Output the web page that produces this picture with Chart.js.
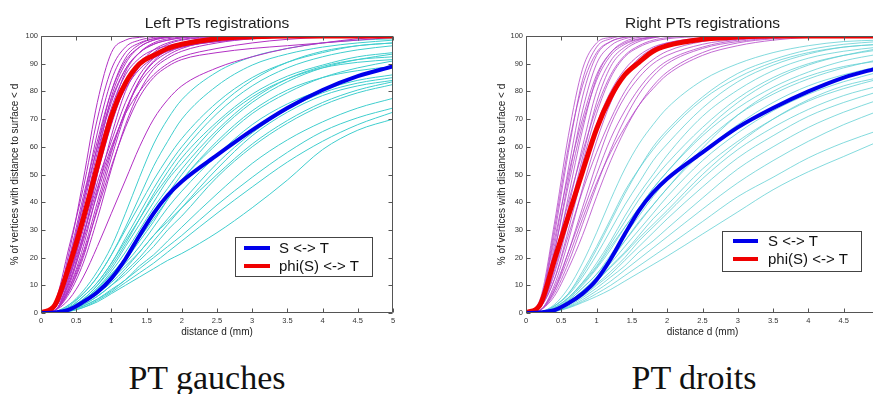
<!DOCTYPE html>
<html>
<head>
<meta charset="utf-8">
<title>PT registrations</title>
<script src="https://cdn.jsdelivr.net/npm/chart.js@4/dist/chart.umd.min.js"></script>
<style>
  html, body { margin: 0; padding: 0; background: #fff; width: 873px; height: 394px; overflow: hidden; }
  .panel { position: absolute; top: 0; }
  #leftPanel { left: 0; width: 434px; height: 345px; }
  #rightPanel { left: 485px; width: 435px; height: 345px; filter: blur(0.6px); }
  .caption {
    position: absolute; top: 361px; transform: translateX(-50%);
    font-family: "Liberation Serif", "DejaVu Serif", serif; font-size: 34px; line-height: 34px;
    color: #111; white-space: nowrap;
  }
</style>
</head>
<body>
<div class="panel" id="leftPanel"><canvas id="leftChart" width="434" height="345"></canvas></div>
<div class="panel" id="rightPanel"><canvas id="rightChart" width="435" height="345"></canvas></div>
<div class="caption" id="leftCaption" style="left:207px"></div>
<div class="caption" id="rightCaption" style="left:694px"></div>

<script>
// ---- texts ----
const chartTitles = ['Left PTs registrations', 'Right PTs registrations'];
const captions = ['PT gauches', 'PT droits'];
const seriesNames = ['S <-> T', 'phi(S) <-> T'];
const xAxisTitle = 'distance d (mm)';
const yAxisTitle = '% of vertices with distance to surface < d';

// ---- axes ----
const xTickValues = [0, 0.5, 1, 1.5, 2, 2.5, 3, 3.5, 4, 4.5, 5];
const xTickLabels = ['0', '0.5', '1', '1.5', '2', '2.5', '3', '3.5', '4', '4.5', '5'];
const yTickValues = [0, 10, 20, 30, 40, 50, 60, 70, 80, 90, 100];
const yTickLabels = ['0', '10', '20', '30', '40', '50', '60', '70', '80', '90', '100'];

// distance samples (mm) shared by every curve
const distances = [0, 0.2, 0.4, 0.6, 0.8, 1.0, 1.2, 1.4, 1.6, 1.8, 2.0, 2.5, 3.0, 3.5, 4.0, 4.5, 5.0];

// ---- left PTs: group curves ----
const leftMeanST  = [0, 0.2, 1.2, 4, 7.5, 12.5, 19.5, 28, 36, 42.5, 47.5, 57, 66, 74, 80.5, 85.5, 89];
const leftMeanPhi = [0, 3, 17, 34, 53, 71, 83, 90, 93, 95.5, 97, 99, 99.7, 100, 100, 100, 100];

// left PTs: one curve per subject, before registration
const leftSubjectsST = [
  [0, 0.5, 3, 8, 15, 24, 36, 49, 61, 70, 77, 87, 92.5, 95.5, 97.5, 98.5, 99],
  [0, 0.3, 2.5, 7, 13, 21, 31, 42, 53, 62, 70, 82, 89.5, 93.5, 96, 97.5, 98.5],
  [0, 0.4, 3, 7, 13, 21, 30, 39, 48, 56, 63, 76, 85, 90.5, 94, 96.5, 97.5],
  [0, 0.2, 2, 5, 10, 17, 25, 34, 43, 51, 58, 72, 82, 88.5, 92.5, 95, 96.5],
  [0, 0.3, 2, 6, 11, 18, 26, 34, 42, 49, 56, 69, 79, 85.5, 89.5, 92.5, 94],
  [0, 0.2, 1.5, 4.5, 9, 15, 22, 30, 38, 45, 52, 66, 77, 84.5, 89, 91.5, 92.5],
  [0, 0.2, 1.5, 4.5, 9, 14, 20, 27, 34, 41, 48, 61, 72, 79.5, 85, 88.5, 91],
  [0, 0.1, 1.2, 4, 8, 13, 19, 26, 33, 41, 48, 62, 73, 80.5, 85, 87.5, 89],
  [0, 0.2, 1.5, 4, 8, 13, 18, 24, 31, 38, 44, 57, 68, 75.5, 80.5, 84, 86],
  [0, 0.1, 1, 3.5, 7, 11, 16, 22, 28, 34, 40, 54, 65, 73.5, 79.5, 83, 85],
  [0, 0.1, 1, 3, 6, 10, 15, 20, 26, 32, 38, 52, 64, 72.5, 78.5, 82, 84],
  [0, 0.2, 1.2, 4, 7.5, 12, 17, 22, 28, 33, 38, 50, 61, 69.5, 76, 80.5, 83.5],
  [0, 0.1, 1, 3, 6, 10, 14, 19, 24, 30, 35, 49, 60, 68.5, 75, 79.5, 82.5],
  [0, 0.1, 0.8, 2.5, 5, 8.5, 12, 17, 21, 26, 31, 43, 54, 62.5, 69, 74, 77.5],
  [0, 0.1, 0.8, 2.5, 5, 8, 12, 16, 20, 24, 28, 39, 49, 58, 65.5, 70.5, 74],
  [0, 0.1, 0.6, 2, 4.5, 7.5, 11, 14.5, 18, 22, 26, 36, 45.5, 54.5, 62, 68, 72.5],
  [0, 0.1, 0.6, 2, 4, 7, 10, 13, 16, 19, 21.5, 29, 38, 48, 59, 66, 70],
  [0, 0.3, 2, 6, 11, 18, 27, 36, 45, 53, 60, 74, 84, 90.5, 94.5, 96.5, 97.5],
  [0, 0.2, 1.5, 5, 10, 16, 24, 32, 40, 48, 54, 68, 78, 84.5, 88.5, 90.5, 91.5],
  [0, 0.2, 1.2, 4, 8.5, 14, 20, 28, 36, 43, 50, 65, 76, 83.5, 88.5, 91.5, 93.5]
];

// left PTs: one curve per subject, after registration
const leftSubjectsPhi = [
  [0, 3, 22, 48, 76, 94, 98.5, 99.5, 100, 100, 100, 100, 100, 100, 100, 100, 100],
  [0, 4, 24, 45, 70, 88, 96, 98.5, 99.5, 100, 100, 100, 100, 100, 100, 100, 100],
  [0, 2, 18, 40, 65, 84, 94, 97.5, 99, 99.6, 100, 100, 100, 100, 100, 100, 100],
  [0, 3, 20, 42, 62, 80, 91, 96, 98.5, 99.5, 100, 100, 100, 100, 100, 100, 100],
  [0, 1, 12, 32, 56, 78, 90, 96, 98.5, 99.5, 100, 100, 100, 100, 100, 100, 100],
  [0, 2, 15, 35, 58, 76, 88, 94, 97, 98.5, 99.3, 100, 100, 100, 100, 100, 100],
  [0, 1, 10, 27, 50, 72, 87, 94, 97.5, 99, 99.6, 100, 100, 100, 100, 100, 100],
  [0, 2, 14, 30, 50, 68, 82, 90, 95, 97.5, 98.8, 99.8, 100, 100, 100, 100, 100],
  [0, 1, 9, 24, 44, 64, 80, 89, 94, 97, 98.5, 99.6, 100, 100, 100, 100, 100],
  [0, 1, 11, 28, 47, 62, 76, 86, 92, 95.5, 97.5, 99.3, 100, 100, 100, 100, 100],
  [0, 2, 16, 36, 54, 70, 81, 88, 92, 94.5, 96, 98, 99, 99.6, 100, 100, 100],
  [0, 1, 8, 20, 38, 56, 72, 84, 91, 95, 97.5, 99.5, 100, 100, 100, 100, 100],
  [0, 1, 7, 18, 34, 52, 68, 80, 88, 92, 94.5, 97.5, 99, 99.7, 100, 100, 100],
  [0, 2, 13, 28, 45, 60, 72, 80, 86, 90, 92.5, 95.5, 97.5, 98.8, 99.5, 100, 100],
  [0, 3, 19, 40, 60, 77, 88, 94, 97, 98.5, 99.4, 100, 100, 100, 100, 100, 100],
  [0, 1, 9, 22, 40, 58, 73, 83, 89, 93, 95.5, 98.5, 99.5, 100, 100, 100, 100],
  [0, 1, 5, 13, 24, 36, 48, 60, 70, 77, 82, 88.5, 92.5, 95.5, 97.5, 99, 100],
  [0, 2, 17, 38, 60, 80, 92, 97, 99, 99.7, 100, 100, 100, 100, 100, 100, 100],
  [0, 1, 13, 33, 55, 74, 86, 92, 95, 96.5, 97.5, 98.8, 99.5, 100, 100, 100, 100],
  [0, 2, 11, 26, 43, 59, 73, 84, 90.5, 94, 96, 98, 99.2, 99.8, 100, 100, 100],
  [0, 1, 8, 21, 37, 53, 67, 78, 85, 89, 91.5, 94, 95.5, 96.5, 97.5, 98.5, 99.5]
];

// ---- right PTs: group curves ----
const rightMeanST  = [0, 0.2, 1, 3.5, 7, 12, 19.5, 28.5, 37, 43.5, 48.5, 58, 67, 74, 80, 85, 88.5];
const rightMeanPhi = [0, 3, 19, 35, 51, 66.5, 78, 86, 90.5, 94.5, 96.5, 98.8, 99.6, 100, 100, 100, 100];

// right PTs: one curve per subject, before registration
const rightSubjectsST = [
  [0, 0.4, 3, 9, 18, 29, 41, 52, 61, 68, 74, 84, 90, 94, 96.5, 98, 98.5],
  [0, 0.3, 2.5, 7, 14, 23, 33, 43, 52, 60, 66, 78, 86.5, 91.5, 95, 97, 98],
  [0, 0.3, 2.5, 6.5, 13, 21, 30, 39, 47, 55, 61, 74, 83.5, 89.5, 93.5, 96, 97],
  [0, 0.2, 2, 5.5, 11, 18, 26, 35, 43, 50, 57, 71, 80.5, 87.5, 92, 94.5, 96],
  [0, 0.2, 2, 5.5, 11, 17, 25, 33, 41, 48, 54, 67, 77.5, 85, 90, 93, 95],
  [0, 0.2, 1.5, 5, 10, 16, 23, 31, 38, 45, 51, 64, 74, 81.5, 87, 91, 93.5],
  [0, 0.2, 1.5, 4.5, 9, 14, 21, 28, 35, 42, 48, 61, 71.5, 79, 84.5, 88.5, 91.5],
  [0, 0.1, 1.2, 4, 8, 13, 19, 26, 33, 39, 45, 58, 68, 76, 82, 86, 89],
  [0, 0.2, 1.2, 4, 8, 12.5, 18, 24, 30, 36, 42, 55, 65, 73, 79, 83.5, 87],
  [0, 0.1, 1, 3.5, 7, 11.5, 17, 22, 28, 34, 39, 52, 62, 70, 76.5, 81, 84.5],
  [0, 0.1, 1, 3, 6.5, 10.5, 15, 20, 26, 31, 36, 48.5, 59, 67, 73.5, 78.5, 82],
  [0, 0.1, 1, 3, 6, 10, 14, 19, 24, 29, 34, 45.5, 56, 64, 71, 76, 80],
  [0, 0.1, 0.8, 2.5, 5.5, 9, 13, 17, 22, 26, 30.5, 41.5, 52, 60, 67, 72.5, 77],
  [0, 0.1, 0.7, 2.2, 4.8, 8, 11.5, 15.5, 19.5, 23.5, 27.5, 37.5, 47, 55, 62, 68, 73],
  [0, 0.1, 0.6, 2, 4.2, 7, 10, 13.5, 17, 20.5, 24, 33, 42, 49, 56, 61.5, 66],
  [0, 0.1, 0.5, 1.8, 3.8, 6, 8.5, 11.5, 14.5, 17.5, 20.5, 28.5, 36.5, 44.5, 51, 56.5, 62],
  [0, 0.3, 2.5, 7, 15, 24, 34, 44, 52, 59, 65, 77, 85, 90.5, 94, 96, 97],
  [0, 0.2, 1.8, 5.5, 10.5, 16.5, 24, 31, 38, 45, 51, 65, 76, 84, 89.5, 93, 95.5],
  [0, 0.2, 1.5, 4.5, 9, 14, 20, 26, 32.5, 39, 45, 59.5, 71.5, 80, 85.5, 89, 91],
  [0, 0.1, 1, 3.5, 7.5, 11.5, 16.5, 21.5, 27, 32, 37, 50, 61, 70, 77, 82, 85]
];

// right PTs: one curve per subject, after registration
const rightSubjectsPhi = [
  [0, 5, 32, 64, 88, 97.5, 99.5, 100, 100, 100, 100, 100, 100, 100, 100, 100, 100],
  [0, 4, 28, 58, 84, 96, 99, 100, 100, 100, 100, 100, 100, 100, 100, 100, 100],
  [0, 3, 24, 52, 78, 93, 98, 99.6, 100, 100, 100, 100, 100, 100, 100, 100, 100],
  [0, 3, 22, 48, 73, 90, 96.5, 99, 99.8, 100, 100, 100, 100, 100, 100, 100, 100],
  [0, 4, 26, 50, 70, 86, 94, 97.5, 99, 99.7, 100, 100, 100, 100, 100, 100, 100],
  [0, 2, 18, 42, 66, 85, 94, 98, 99.5, 100, 100, 100, 100, 100, 100, 100, 100],
  [0, 2, 16, 38, 60, 80, 91, 96, 98.5, 99.5, 100, 100, 100, 100, 100, 100, 100],
  [0, 3, 20, 40, 58, 74, 86, 93, 96.5, 98.5, 99.4, 100, 100, 100, 100, 100, 100],
  [0, 2, 14, 33, 54, 72, 85, 92.5, 96, 98, 99, 99.8, 100, 100, 100, 100, 100],
  [0, 2, 12, 30, 50, 68, 80, 88, 93, 96, 97.5, 99.2, 100, 100, 100, 100, 100],
  [0, 1, 10, 26, 45, 62, 76, 86, 92, 95.5, 97.5, 99.3, 100, 100, 100, 100, 100],
  [0, 2, 12, 28, 44, 58, 70, 80, 87, 91.5, 94.5, 98, 99.3, 100, 100, 100, 100],
  [0, 1, 8, 22, 38, 54, 68, 78, 85, 90, 93, 97, 98.8, 99.6, 100, 100, 100],
  [0, 1, 9, 22, 36, 50, 63, 73, 81, 87, 91, 96, 98.5, 99.5, 100, 100, 100],
  [0, 1, 7, 18, 32, 46, 59, 70, 79, 85.5, 90, 95.5, 98, 99.3, 100, 100, 100],
  [0, 1, 8, 20, 34, 47, 58, 67, 75, 81, 86, 93, 96.5, 98.5, 99.5, 100, 100],
  [0, 3, 22, 46, 68, 84, 93, 97, 98.8, 99.5, 100, 100, 100, 100, 100, 100, 100],
  [0, 4, 30, 60, 82, 94, 98, 99.5, 100, 100, 100, 100, 100, 100, 100, 100, 100],
  [0, 1, 6, 16, 28, 42, 55, 66, 75, 82, 87, 94, 97.5, 99, 99.8, 100, 100],
  [0, 2, 15, 35, 56, 76, 89, 95, 98, 99.3, 100, 100, 100, 100, 100, 100, 100]
];

// ---- drawing helpers ----
const FONT = "'Liberation Sans', Arial, Helvetica, sans-serif";
Chart.defaults.font.family = FONT;
Chart.defaults.color = '#222';

const curve = values => distances.map((d, i) => ({ x: d, y: values[i] }));

// axes box with inward tick marks on all four sides
const frameTicks = {
  id: 'frameTicks',
  afterDatasetsDraw(chart, args, o) {
    const { ctx, chartArea: a, scales: { x, y } } = chart;
    const L = Math.round(a.left) + 0.5, R = Math.round(a.right) - 0.5;
    const T = Math.round(a.top) + 0.5, B = Math.round(a.bottom) - 0.5;
    ctx.save();
    ctx.strokeStyle = o.color;
    ctx.lineWidth = 1;
    ctx.beginPath();
    ctx.rect(L, T, R - L, B - T);
    for (const t of x.ticks) {
      const px = Math.round(x.getPixelForValue(t.value)) + 0.5;
      ctx.moveTo(px, B); ctx.lineTo(px, B - o.len);
      ctx.moveTo(px, T); ctx.lineTo(px, T + o.len);
    }
    for (const t of y.ticks) {
      const py = Math.round(y.getPixelForValue(t.value)) + 0.5;
      ctx.moveTo(L, py); ctx.lineTo(L + o.len, py);
      ctx.moveTo(R, py); ctx.lineTo(R - o.len, py);
    }
    ctx.stroke();
    ctx.restore();
  }
};

// boxed legend in the lower right corner of the plot
const boxLegend = {
  id: 'boxLegend',
  afterDatasetsDraw(chart, args, o) {
    const { ctx, chartArea: a } = chart;
    const items = chart.data.datasets.filter(d => d.inLegend);
    const x0 = Math.round(a.right - o.right - o.width);
    const y0 = Math.round(a.bottom - o.bottom - o.height);
    ctx.save();
    ctx.fillStyle = '#fff';
    ctx.fillRect(x0, y0, o.width, o.height);
    ctx.strokeStyle = o.borderColor;
    ctx.lineWidth = 1;
    ctx.strokeRect(x0 + 0.5, y0 + 0.5, o.width, o.height);
    ctx.font = o.font;
    ctx.textBaseline = 'middle';
    items.forEach((d, i) => {
      const cy = y0 + o.firstRow + i * o.rowGap;
      ctx.strokeStyle = d.borderColor;
      ctx.lineWidth = o.sampleWidth;
      ctx.beginPath();
      ctx.moveTo(x0 + o.sampleStart, cy);
      ctx.lineTo(x0 + o.sampleStart + o.sampleLen, cy);
      ctx.stroke();
      ctx.fillStyle = o.color;
      ctx.fillText(d.label, x0 + o.textStart, cy + 1);
    });
    ctx.restore();
  }
};

function buildChart(canvasId, title, meanST, meanPhi, subjST, subjPhi, look) {
  const datasets = [
    { label: seriesNames[0], data: curve(meanST), borderColor: 'rgb(0,0,235)', borderWidth: 4, order: 0, inLegend: true },
    { label: seriesNames[1], data: curve(meanPhi), borderColor: 'rgb(240,0,0)', borderWidth: 5, order: 0, inLegend: true }
  ];
  subjPhi.forEach((v, i) => datasets.push({ label: 'phi ' + (i + 1), data: curve(v), borderColor: look.magenta, borderWidth: 1, order: 1 }));
  subjST.forEach((v, i) => datasets.push({ label: 'S ' + (i + 1), data: curve(v), borderColor: look.cyan, borderWidth: 1, order: 2 }));
  datasets.forEach(d => { d.pointRadius = 0; d.fill = false; d.cubicInterpolationMode = 'monotone'; });

  return new Chart(document.getElementById(canvasId), {
    type: 'line',
    data: { datasets },
    options: {
      responsive: false,
      animation: false,
      events: [],
      layout: { padding: { left: 0, right: 41, top: 0, bottom: 2 } },
      plugins: {
        legend: { display: false },
        tooltip: { enabled: false },
        title: {
          display: true, text: title, color: '#222', fullSize: false,
          font: { size: 15.5, weight: 'normal' },
          padding: { top: 14, bottom: 3.4 }
        },
        frameTicks: { color: '#555', len: 4 },
        boxLegend: look.legend
      },
      scales: {
        x: {
          type: 'linear', min: 0, max: 5,
          afterBuildTicks: s => { s.ticks = xTickValues.map(v => ({ value: v })); },
          afterFit: s => { s.height = 30; },
          ticks: { font: { size: 7.5 }, color: '#333', padding: 3, maxRotation: 0, autoSkip: false,
                   callback: (v, i) => xTickLabels[i] },
          grid: { display: false, drawTicks: false },
          border: { display: false },
          title: { display: true, text: xAxisTitle, color: '#222', font: { size: 10 }, padding: { top: 0, bottom: 5 } }
        },
        y: {
          type: 'linear', min: 0, max: 100,
          afterBuildTicks: s => { s.ticks = yTickValues.map(v => ({ value: v })); },
          afterFit: s => { s.width = 41; },
          ticks: { font: { size: 7.5 }, color: '#333', padding: 3, autoSkip: false,
                   callback: (v, i) => yTickLabels[i] },
          grid: { display: false, drawTicks: false },
          border: { display: false },
          title: { display: true, text: yAxisTitle, color: '#222', font: { size: 10 }, padding: { top: look.yTitlePad, bottom: 0 } }
        }
      }
    },
    plugins: [frameTicks, boxLegend]
  });
}

buildChart('leftChart', chartTitles[0], leftMeanST, leftMeanPhi, leftSubjectsST, leftSubjectsPhi, {
  magenta: 'rgb(178,48,196)', cyan: 'rgb(64,206,206)', yTitlePad: 9,
  legend: { right: 21, bottom: 37, width: 137, height: 39, firstRow: 11, rowGap: 18,
            sampleStart: 9, sampleLen: 26, sampleWidth: 4, textStart: 44,
            font: '15px ' + FONT, color: '#111', borderColor: '#444' }
});

buildChart('rightChart', chartTitles[1], rightMeanST, rightMeanPhi, rightSubjectsST, rightSubjectsPhi, {
  magenta: 'rgba(180,70,200,0.8)', cyan: 'rgba(90,205,210,0.75)', yTitlePad: 11,
  legend: { right: 18, bottom: 42, width: 139, height: 40, firstRow: 10, rowGap: 18,
            sampleStart: 11, sampleLen: 25, sampleWidth: 4, textStart: 46,
            font: '15px ' + FONT, color: '#111', borderColor: '#444' }
});

document.getElementById('leftCaption').textContent = captions[0];
document.getElementById('rightCaption').textContent = captions[1];
</script>
</body>
</html>
